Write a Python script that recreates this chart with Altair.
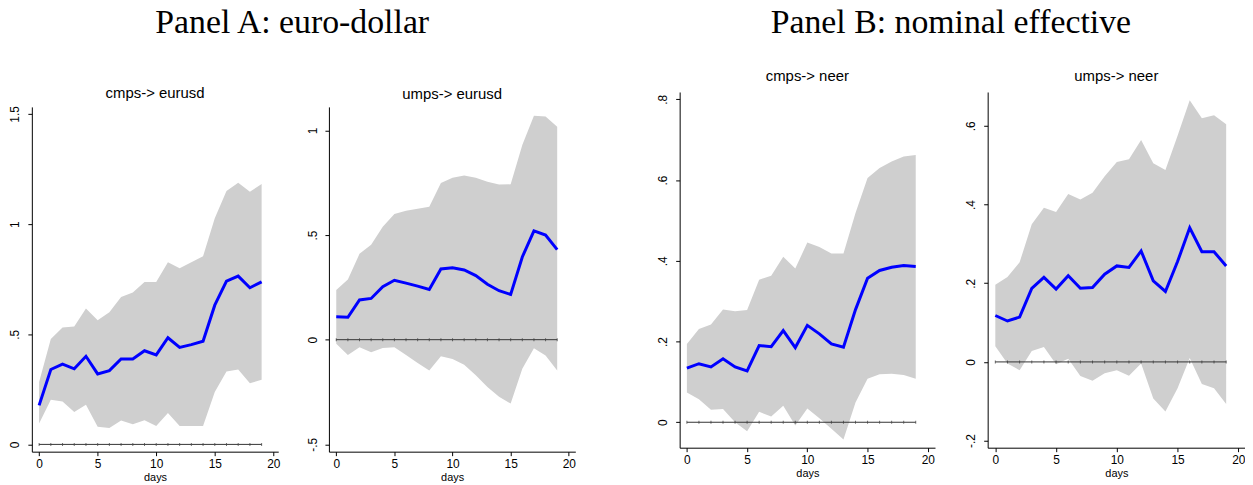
import altair as alt
import pandas as pd

days = list(range(20))

# Panel A: cmps -> eurusd
ce_irf = [0.177, 0.34, 0.364, 0.343, 0.40, 0.32, 0.335, 0.388, 0.388, 0.425,
          0.406, 0.484, 0.44, 0.453, 0.468, 0.632, 0.741, 0.764, 0.711, 0.738]
ce_hi = [0.283, 0.478, 0.531, 0.535, 0.617, 0.564, 0.60, 0.669, 0.689, 0.737,
         0.737, 0.827, 0.80, 0.827, 0.854, 1.027, 1.15, 1.188, 1.147, 1.182]
ce_lo = [0.095, 0.203, 0.195, 0.147, 0.18, 0.08, 0.075, 0.108, 0.092, 0.11,
         0.084, 0.143, 0.084, 0.084, 0.084, 0.238, 0.331, 0.34, 0.278, 0.293]

# Panel A: umps -> eurusd
ue_irf = [0.109, 0.107, 0.19, 0.197, 0.253, 0.284, 0.27, 0.256, 0.24, 0.338,
          0.343, 0.333, 0.306, 0.265, 0.234, 0.216, 0.395, 0.52, 0.50, 0.43]
ue_hi = [0.237, 0.288, 0.41, 0.453, 0.54, 0.60, 0.616, 0.626, 0.635, 0.749,
         0.774, 0.784, 0.774, 0.754, 0.741, 0.742, 0.93, 1.07, 1.066, 1.017]
ue_lo = [-0.02, -0.073, -0.036, -0.06, -0.04, -0.036, -0.073, -0.112, -0.147, -0.079,
         -0.092, -0.12, -0.17, -0.226, -0.273, -0.305, -0.139, -0.041, -0.076, -0.147]

# Panel B: cmps -> neer
cn_irf = [0.134, 0.145, 0.137, 0.157, 0.137, 0.127, 0.19, 0.187, 0.227, 0.185,
          0.24, 0.219, 0.194, 0.186, 0.279, 0.357, 0.376, 0.384, 0.388, 0.386]
cn_hi = [0.194, 0.231, 0.242, 0.279, 0.275, 0.278, 0.353, 0.363, 0.41, 0.381,
         0.445, 0.434, 0.418, 0.418, 0.518, 0.605, 0.63, 0.646, 0.658, 0.662]
cn_lo = [0.074, 0.057, 0.031, 0.033, 0.0, -0.022, 0.026, 0.014, 0.041, -0.008,
         0.034, 0.01, -0.016, -0.043, 0.049, 0.108, 0.119, 0.12, 0.117, 0.108]

# Panel B: umps -> neer
un_irf = [0.118, 0.104, 0.114, 0.187, 0.215, 0.185, 0.219, 0.187, 0.189, 0.223,
          0.244, 0.24, 0.282, 0.206, 0.179, 0.255, 0.341, 0.28, 0.28, 0.244]
un_hi = [0.196, 0.216, 0.253, 0.35, 0.392, 0.381, 0.427, 0.413, 0.43, 0.472,
         0.508, 0.515, 0.564, 0.505, 0.488, 0.575, 0.665, 0.619, 0.627, 0.604]
un_lo = [0.04, -0.004, -0.021, 0.028, 0.038, -0.006, 0.008, -0.036, -0.048, -0.029,
         -0.021, -0.035, -0.004, -0.093, -0.126, -0.067, 0.01, -0.056, -0.067, -0.107]

zero = [0.0] * 20

x_ticks = [0, 5, 10, 15, 20]
ce_yticks, ce_ylabels = [0, 0.5, 1, 1.5], ["0", ".5", "1", "1.5"]
ue_yticks, ue_ylabels = [-0.5, 0, 0.5, 1], ["-.5", "0", ".5", "1"]
cn_yticks, cn_ylabels = [0, 0.2, 0.4, 0.6, 0.8], ["0", ".2", ".4", ".6", ".8"]
un_yticks, un_ylabels = [-0.2, 0, 0.2, 0.4, 0.6], ["-.2", "0", ".2", ".4", ".6"]

SANS = "Liberation Sans"
SERIF = "Liberation Serif"


def label_expr(ticks, labels):
    expr = "''"
    for t, l in reversed(list(zip(ticks, labels))):
        expr = f"abs(datum.value - ({t})) < 1e-9 ? '{l}' : ({expr})"
    return expr


def panel(title, irf, lo, hi, xdom, ydom, yticks, ylabels, w, h, toff):
    df = pd.DataFrame({"day": days, "irf": irf, "lo": lo, "hi": hi, "zero": zero})
    base = alt.Chart(df)
    x = alt.X("day:Q", scale=alt.Scale(domain=xdom, nice=False, zero=False),
              axis=alt.Axis(values=x_ticks, title="days", titleFontSize=11,
                            titleFont=SANS, titleFontWeight="normal",
                            titlePadding=2, labelPadding=3, format="d",
                            grid=False, labelFontSize=12, labelFont=SANS))
    yscale = alt.Scale(domain=ydom, nice=False, zero=False)
    yaxis = alt.Axis(values=yticks, title=None, labelAngle=270, grid=False,
                     labelAlign="center", labelBaseline="bottom", labelPadding=6,
                     labelFontSize=12, labelFont=SANS,
                     labelExpr=label_expr(yticks, ylabels))
    band = base.mark_area(color="#cfcfcf", opacity=1).encode(
        x=x, y=alt.Y("lo:Q", scale=yscale, axis=yaxis), y2="hi:Q")
    zl = base.mark_line(color="#333333", strokeWidth=1).encode(
        x="day:Q", y="zero:Q")
    zt = base.mark_tick(color="#333333", size=3, thickness=1, orient="vertical").encode(
        x="day:Q", y="zero:Q")
    line = base.mark_line(color="#0000ff", strokeWidth=3).encode(
        x="day:Q", y="irf:Q")
    return alt.layer(band, zl, zt, line).properties(
        width=w, height=h,
        title=alt.TitleParams(title, font=SANS, fontSize=15, fontWeight="normal",
                              anchor="middle", offset=toff, color="black"))


def spacer(h):
    return alt.Chart(pd.DataFrame({"v": [0]})).mark_point(opacity=0, size=1).encode(
        x=alt.value(0), y=alt.value(0)).properties(width=1, height=h)


p1 = panel("cmps-> eurusd", ce_irf, ce_lo, ce_hi, [-0.62, 20.42], [-0.033, 1.532],
           ce_yticks, ce_ylabels, 248, 347, 5)
p2 = panel("umps-> eurusd", ue_irf, ue_lo, ue_hi, [-0.63, 20.56], [-0.535, 1.112],
           ue_yticks, ue_ylabels, 248, 347, 5)
p3 = panel("cmps-> neer", cn_irf, cn_lo, cn_hi, [-0.6, 20.6], [-0.063, 0.818],
           cn_yticks, cn_ylabels, 257, 358, 8)
p4 = panel("umps-> neer", un_irf, un_lo, un_hi, [-0.63, 20.55], [-0.218, 0.686],
           un_yticks, un_ylabels, 259, 358, 8)

gA = alt.vconcat(spacer(17), alt.hconcat(p1, p2, spacing=26), spacing=0).properties(
    title=alt.TitleParams("Panel A: euro-dollar", font=SERIF, fontSize=34,
                          fontWeight="normal", anchor="middle", offset=28, color="black"))
gB = alt.vconcat(spacer(1), alt.hconcat(p3, p4, spacing=30), spacing=0).properties(
    title=alt.TitleParams("Panel B: nominal effective", font=SERIF, fontSize=34,
                          fontWeight="normal", anchor="middle", offset=28, color="black"))

chart = alt.hconcat(gA, gB, spacing=80).properties(
    padding={"left": 0, "top": -4, "right": 0, "bottom": 0},
    background="white"
).configure_view(stroke=None).configure_axis(
    grid=False, domainColor="black", tickColor="black", tickSize=4,
    labelFont=SANS, labelFontSize=12, labelColor="black", titleColor="black",
    domainWidth=1, tickWidth=1
)

chart.save("out.html", embed_options={"renderer": "svg", "actions": False})
